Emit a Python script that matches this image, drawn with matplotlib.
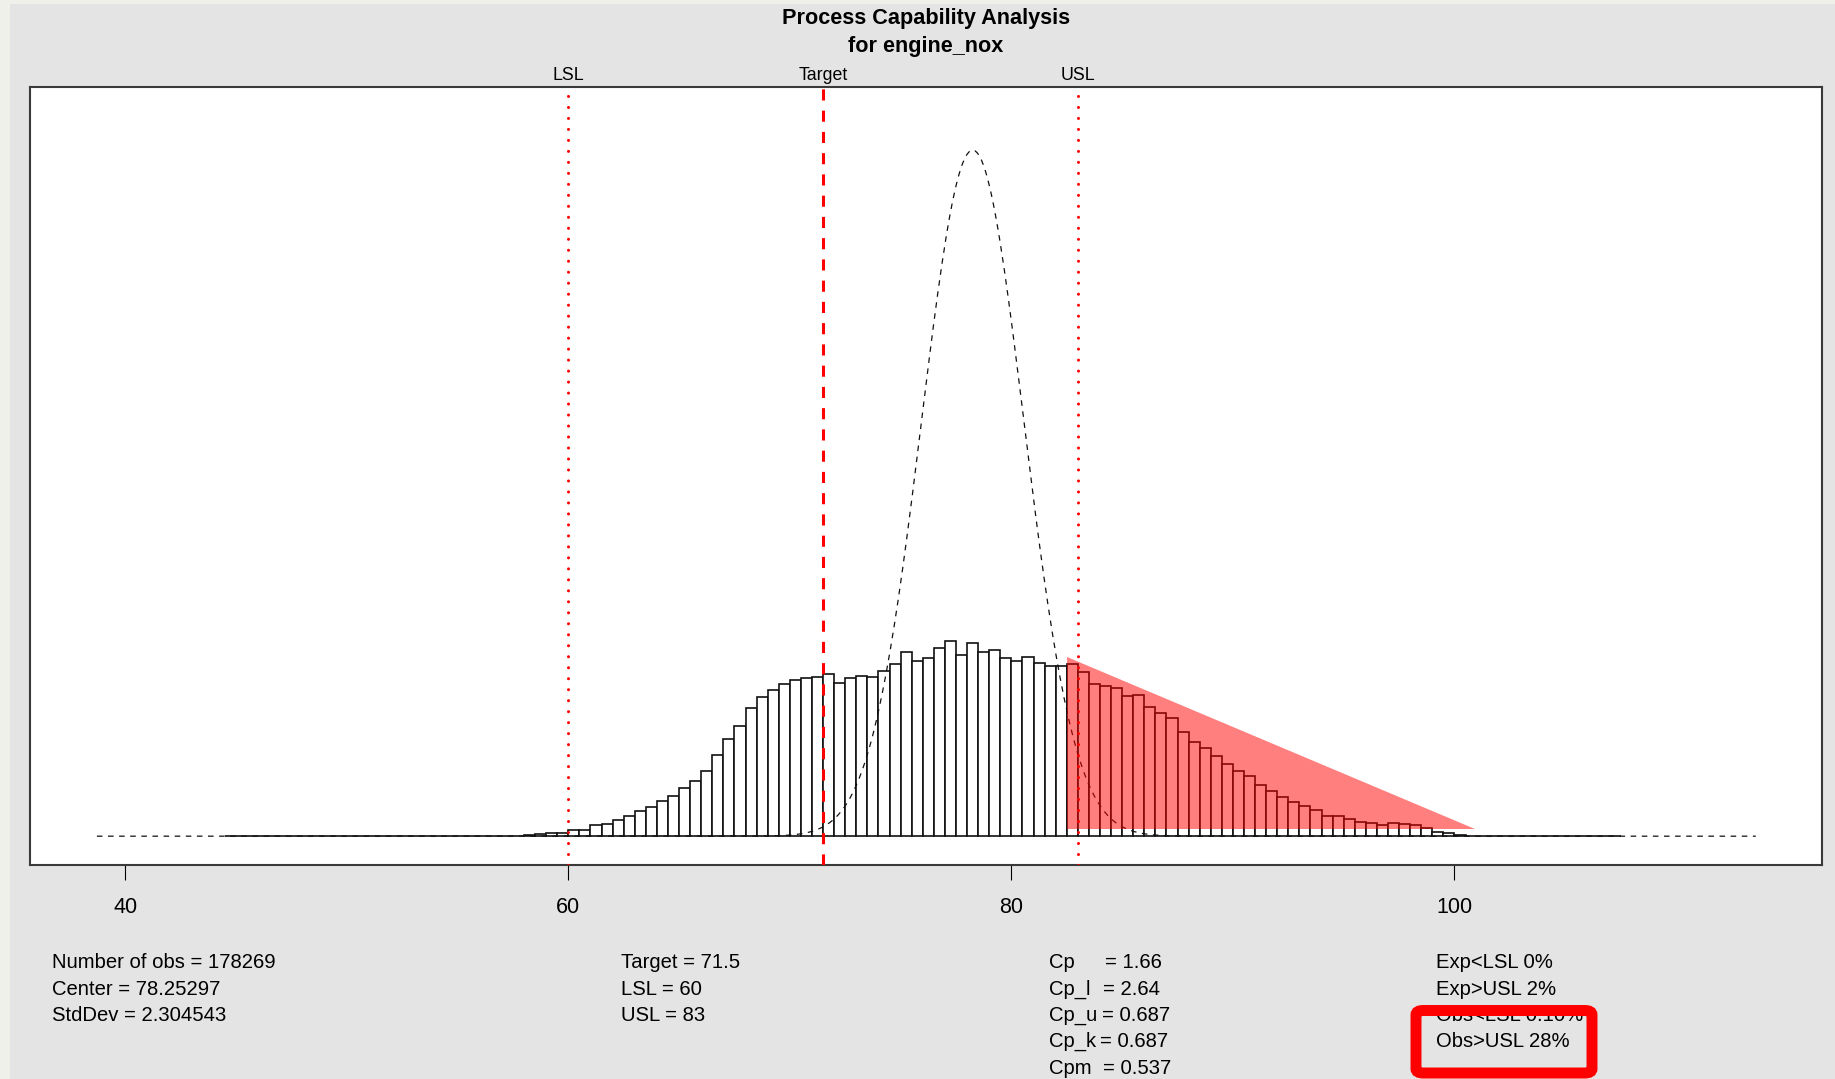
#!/usr/bin/env python3
"""Process capability histogram for engine_nox (qcc-style layout)."""

import matplotlib

matplotlib.use("Agg")
import matplotlib.pyplot as plt
import numpy as np
from matplotlib.patches import FancyBboxPatch, Polygon, Rectangle

plt.rcParams["font.family"] = ["Liberation Sans", "DejaVu Sans"]
plt.rcParams["lines.scale_dashes"] = False

# --- data --------------------------------------------------------------------
N_OBS = 178269
CENTER = 78.25297
STD_DEV = 2.304543
TARGET = 71.5
LSL = 60
USL = 83

BREAK_START = 44.5
BIN_WIDTH = 0.5
# histogram densities, one per 0.5 wide bin starting at 44.5
DENSITY = [0.0] * 25 + [
    0.00008, 0.00013, 0.00025, 0.00050, 0.00076, 0.00088,  # 57.0 - 59.5
    0.00144, 0.00159, 0.00270, 0.00320, 0.00404, 0.00497,  # 60.0 - 62.5
    0.00638, 0.00749, 0.00900, 0.01026, 0.01211, 0.01395,  # 63.0 - 65.5
    0.01639, 0.02050, 0.02454, 0.02782, 0.03236, 0.03523,  # 66.0 - 68.5
    0.03700, 0.03851, 0.03934, 0.04002, 0.04017, 0.04103,  # 69.0 - 71.5
    0.03859, 0.03985, 0.04043, 0.04010, 0.04179, 0.04338,  # 72.0 - 74.5
    0.04658, 0.04431, 0.04489, 0.04749, 0.04936, 0.04582,  # 75.0 - 77.5
    0.04885, 0.04640, 0.04709, 0.04507, 0.04431, 0.04522,  # 78.0 - 80.5
    0.04363, 0.04287, 0.04287, 0.04345, 0.04144, 0.03851,  # 81.0 - 83.5
    0.03791, 0.03740, 0.03538, 0.03574, 0.03271, 0.03102,  # 84.0 - 86.5
    0.02976, 0.02623, 0.02378, 0.02237, 0.02035, 0.01823,  # 87.0 - 89.5
    0.01639, 0.01513, 0.01279, 0.01135, 0.00991, 0.00857,  # 90.0 - 92.5
    0.00764, 0.00656, 0.00504, 0.00504, 0.00436, 0.00361,  # 93.0 - 95.5
    0.00328, 0.00270, 0.00335, 0.00310, 0.00285, 0.00219,  # 96.0 - 98.5
    0.00108, 0.00083, 0.00018, 0.00008,                    # 99.0 - 100.5
] + [0.0] * 13

CURVE_RANGE = (38.72, 113.6)  # x span of the fitted normal curve
X_TICKS = [40, 60, 80, 100]

# red highlight triangle drawn over the out-of-spec tail
HIGHLIGHT_X = [82.52, 100.93]
HIGHLIGHT_Y = [0.00189, 0.04527]

STATS_COL1 = [f"Number of obs = {N_OBS}", f"Center = {CENTER}", f"StdDev = {STD_DEV}"]
STATS_COL2 = [f"Target = {TARGET}", f"LSL = {LSL}", f"USL = {USL}"]
CP_NAMES = ["Cp", "Cp_l", "Cp_u", "Cp_k", "Cpm"]
CP_VALUES = ["1.66", "2.64", "0.687", "0.687", "0.537"]
STATS_COL4 = ["Exp<LSL 0%", "Exp>USL 2%", "Obs<LSL 0.10%", "Obs>USL 28%"]

W, H = 1835, 1079
BG = "#e4e4e4"


def fx(px):
    return px / W


def fy(py):
    return 1 - py / H


def main() -> None:
    fig = plt.figure(figsize=(W / 100, H / 100), dpi=100, facecolor=BG)
    fig.patches.append(Rectangle((0, fy(4)), 1, 4 / H, transform=fig.transFigure,
                                 facecolor="#f0f0ea", edgecolor="none"))
    fig.patches.append(Rectangle((0, 0), fx(10), 1, transform=fig.transFigure,
                                 facecolor="#f0f0ea", edgecolor="none"))

    ax = fig.add_axes([fx(30), fy(865), fx(1822 - 30), (865 - 87) / H])
    ax.set_facecolor("white")

    dens = np.array(DENSITY)
    left = BREAK_START + BIN_WIDTH * np.arange(len(dens))
    ax.bar(left, dens, width=BIN_WIDTH, align="edge", facecolor="white",
           edgecolor="#111111", linewidth=1.2, zorder=2)

    xs = np.linspace(CURVE_RANGE[0], CURVE_RANGE[1], 800)
    ys = np.exp(-0.5 * ((xs - CENTER) / STD_DEV) ** 2) / (STD_DEV * np.sqrt(2 * np.pi))
    ax.plot(xs, ys, color="#111111", linewidth=0.9, linestyle=(0, (4, 4)), zorder=3)

    for xv in (LSL, USL):
        ax.axvline(xv, color="red", linewidth=2.2, linestyle=(0, (0.01, 7.9)),
                   dash_capstyle="round", zorder=4)
    ax.axvline(TARGET, color="red", linewidth=2.2, linestyle=(0, (8, 7.3)), zorder=4)

    tri = Polygon([(HIGHLIGHT_X[0], HIGHLIGHT_Y[1]), (HIGHLIGHT_X[0], HIGHLIGHT_Y[0]),
                   (HIGHLIGHT_X[1], HIGHLIGHT_Y[0])], closed=True,
                  facecolor=(1, 0, 0, 0.5), edgecolor="none", zorder=5)
    ax.add_patch(tri)

    ymax = 1.05 * ys.max()
    ax.set_ylim(-0.04 * ymax, 1.04 * ymax)
    ax.set_xlim(35.70, 116.59)

    ax.set_xticks(X_TICKS)
    ax.set_xticklabels([str(t) for t in X_TICKS], fontsize=15.5)
    ax.tick_params(axis="x", length=10.8, width=0.8, pad=12, color="black")
    ax.set_yticks([])
    for sp in ax.spines.values():
        sp.set_color("#3a3a3a")
        sp.set_linewidth(1.5)

    top_y = 1 + 6.8 / (865 - 87)
    trans = ax.get_xaxis_transform()
    for xv, lab in ((LSL, "LSL"), (TARGET, "Target"), (USL, "USL")):
        ax.text(xv, top_y, lab, transform=trans, ha="center", va="baseline",
                fontsize=12.8)

    fig.text(fx(926), fy(24), "Process Capability Analysis", ha="center",
             va="baseline", fontsize=15.6, fontweight="bold")
    fig.text(fx(926), fy(51.7), "for engine_nox", ha="center", va="baseline",
             fontsize=15.6, fontweight="bold")

    rows = [968.3, 994.6, 1020.9, 1047.2, 1073.5]
    fs = 14.6
    for i, s in enumerate(STATS_COL1):
        fig.text(fx(51.7), fy(rows[i]), s, va="baseline", fontsize=fs)
    for i, s in enumerate(STATS_COL2):
        fig.text(fx(621.4), fy(rows[i]), s, va="baseline", fontsize=fs)
    eq_x = [1105.0, 1103.3, 1102.0, 1100.0, 1103.0]
    for i, (n, v) in enumerate(zip(CP_NAMES, CP_VALUES)):
        fig.text(fx(1049.3), fy(rows[i]), n, va="baseline", fontsize=fs)
        fig.text(fx(eq_x[i]), fy(rows[i]), f"= {v}", va="baseline", fontsize=fs)
    for i, s in enumerate(STATS_COL4):
        fig.text(fx(1436), fy(rows[i]), s, va="baseline", fontsize=fs)

    box = FancyBboxPatch((fx(1416), fy(1073)), fx(1592 - 1416), (1073 - 1010.5) / H,
                         boxstyle="round,pad=0,rounding_size=0.004",
                         transform=fig.transFigure, facecolor="none",
                         edgecolor="red", linewidth=7.9, zorder=10)
    fig.patches.append(box)

    fig.savefig("out.png", dpi=100, facecolor=BG)
    plt.close(fig)


if __name__ == "__main__":
    main()
